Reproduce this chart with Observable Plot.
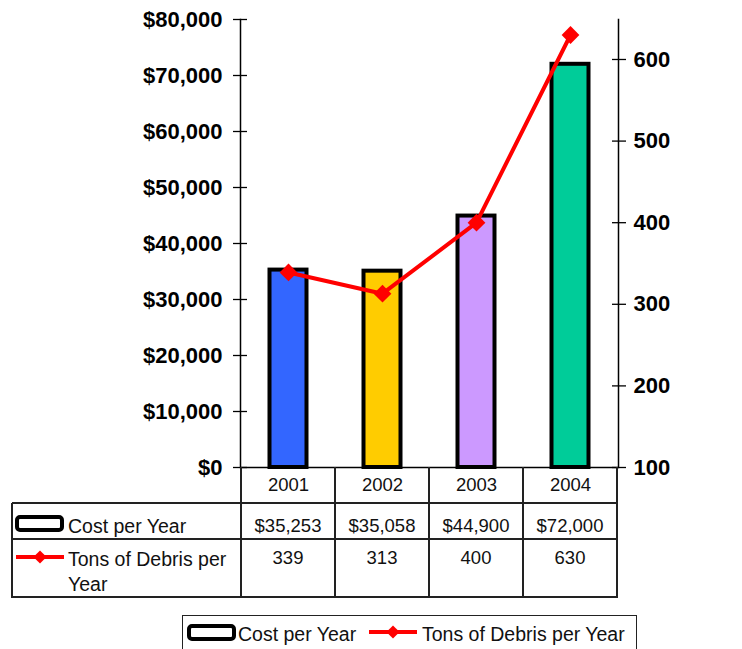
<!DOCTYPE html>
<html>
<head>
<meta charset="utf-8">
<script src="https://cdn.jsdelivr.net/npm/d3@7"></script>
<script src="https://cdn.jsdelivr.net/npm/@observablehq/plot@0.6"></script>
<style>
  html, body { margin: 0; padding: 0; background: #fff; }
  #wrap { position: relative; width: 742px; height: 649px; overflow: hidden; font-family: "Liberation Sans", Arial, sans-serif; }
  #wrap svg { position: absolute; left: 0; top: 0; overflow: visible; }
  .ln { position: absolute; background: #222; }
  .txt { position: absolute; font-size: 18.5px; color: #111; white-space: nowrap; line-height: 1; }
  .lbl { font-size: 19.5px; }
</style>
</head>
<body>
<div id="wrap"></div>
<script>
// ---- data ----
const years = ["2001", "2002", "2003", "2004"];
const costPerYear = [35253, 35058, 44900, 72000];
const tonsPerYear = [339, 313, 400, 630];
const barColors = ["#3366FF", "#FFCC00", "#CC99FF", "#00CC99"];
const costTicks = [0, 10000, 20000, 30000, 40000, 50000, 60000, 70000, 80000];
const tonsTicks = [100, 200, 300, 400, 500, 600];
const seriesNames = ["Cost per Year", "Tons of Debris per Year"];

// right axis domain (tons) mapped onto the cost scale
const costDomain = [0, 80000];
const tonsDomain = [100, 649];
const toCost = t => (t - tonsDomain[0]) / (tonsDomain[1] - tonsDomain[0]) * (costDomain[1] - costDomain[0]) + costDomain[0];
const fromCost = c => (c - costDomain[0]) / (costDomain[1] - costDomain[0]) * (tonsDomain[1] - tonsDomain[0]) + tonsDomain[0];

const data = years.map((y, i) => ({year: y, cost: costPerYear[i], tons: tonsPerYear[i], color: barColors[i]}));
const fmtMoney = d => "$" + d3.format(",")(d);

const W = 742, H = 649;
const chart = Plot.plot({
  width: W,
  height: H,
  marginTop: 19,
  marginBottom: 182,
  marginLeft: 240,
  marginRight: 124,
  style: {fontFamily: "'Liberation Sans', Arial, sans-serif", color: "#000", background: "transparent", overflow: "visible"},
  x: {type: "band", domain: years, padding: 0, label: null},
  y: {domain: costDomain, label: null},
  marks: [
    Plot.frame({anchor: "left", stroke: "#000", strokeWidth: 1.5}),
    Plot.frame({anchor: "right", stroke: "#000", strokeWidth: 1.5}),
    Plot.barY(data, {x: "year", y: "cost", fill: "color", stroke: "#000", strokeWidth: 4, insetLeft: 28.5, insetRight: 28.5}),
    Plot.ruleY([0], {stroke: "#000", strokeWidth: 1.5}),
    // left axis: crossing ticks + labels
    Plot.axisY(costTicks, {anchor: "left", label: null, tickSize: 14, dx: 7, tickFormat: () => "", stroke: "#000", strokeWidth: 1.3}),
    Plot.axisY(costTicks, {anchor: "left", label: null, tickSize: 0, tickPadding: 18, tickFormat: fmtMoney, fontSize: 22, fontWeight: "bold", fill: "#000"}),
    // right axis
    Plot.axisY(tonsTicks.map(toCost), {anchor: "right", label: null, tickSize: 14, dx: -7, tickFormat: () => "", stroke: "#000", strokeWidth: 1.3}),
    Plot.axisY(tonsTicks.map(toCost), {anchor: "right", label: null, tickSize: 0, tickPadding: 15, tickFormat: d => String(Math.round(fromCost(d))), fontSize: 22, fontWeight: "bold", fill: "#000"}),
    // x labels (top row of the data table)
    Plot.axisX({anchor: "bottom", label: null, tickSize: 0, tickPadding: 10, fontSize: 18.5, fill: "#111"}),
    // tons line
    Plot.line(data, {x: "year", y: d => toCost(d.tons), stroke: "#FF0000", strokeWidth: 4}),
    Plot.dot(data, {x: "year", y: d => toCost(d.tons), symbol: "diamond2", r: 8, fill: "#FF0000", stroke: "none"})
  ]
});

const wrap = document.getElementById("wrap");
wrap.appendChild(chart);

// ---- data table overlay, aligned with the x band scale ----
const xs = chart.scale("x");
const ys = chart.scale("y");
const bw = xs.bandwidth;
const colStarts = years.map(y => xs.apply(y));
const plotLeft = colStarts[0];
const plotRight = colStarts[colStarts.length - 1] + bw;
const axisY0 = ys.apply(0);
const tableLeft = 12;
const row1 = axisY0 + 36, row2 = row1 + 36, tableBottom = row2 + 58;
const lw = 1.5;

function hline(x1, x2, y) {
  const d = document.createElement("div"); d.className = "ln";
  Object.assign(d.style, {left: x1 + "px", top: (y - lw / 2) + "px", width: (x2 - x1) + "px", height: lw + "px"});
  wrap.appendChild(d);
}
function vline(x, y1, y2) {
  const d = document.createElement("div"); d.className = "ln";
  Object.assign(d.style, {left: (x - lw / 2) + "px", top: y1 + "px", width: lw + "px", height: (y2 - y1) + "px"});
  wrap.appendChild(d);
}
function text(str, x, baselineY, align, cls) {
  const d = document.createElement("div"); d.className = "txt" + (cls ? " " + cls : "");
  d.textContent = str;
  d.style.top = (baselineY - 15.5) + "px";
  if (align === "center") { d.style.left = (x - 100) + "px"; d.style.width = "200px"; d.style.textAlign = "center"; }
  else d.style.left = x + "px";
  wrap.appendChild(d);
}

hline(tableLeft, plotRight + lw / 2, row1);
hline(tableLeft, plotRight + lw / 2, row2);
hline(tableLeft - lw / 2, plotRight + lw / 2, tableBottom);
vline(tableLeft, row1, tableBottom);
colStarts.forEach(x => vline(x, axisY0, tableBottom));
vline(plotRight, axisY0, tableBottom);

years.forEach((y, i) => {
  const cx = colStarts[i] + bw / 2;
  text(fmtMoney(costPerYear[i]), cx, row1 + 29, "center");
  text(String(tonsPerYear[i]), cx, row2 + 25, "center");
});

function keySvg(kind) {
  const s = d3.create("svg").attr("width", 50).attr("height", 20).style("position", "absolute").style("overflow", "visible");
  if (kind === "bar") {
    s.append("rect").attr("x", 2).attr("y", 2).attr("width", 45).attr("height", 13).attr("rx", 3)
      .attr("fill", "#fff").attr("stroke", "#000").attr("stroke-width", 4);
  } else {
    s.append("line").attr("x1", 0).attr("x2", 48).attr("y1", 9).attr("y2", 9).attr("stroke", "#FF0000").attr("stroke-width", 4);
    s.append("path").attr("d", d3.symbol(d3.symbolDiamond2, 110)()).attr("transform", "translate(24,9)").attr("fill", "#FF0000");
  }
  return s.node();
}
function placeKey(kind, x, y) {
  const k = keySvg(kind);
  k.style.left = x + "px"; k.style.top = y + "px";
  wrap.appendChild(k);
}

// row labels
placeKey("bar", 15, row1 + 12);
text(seriesNames[0], 68, row1 + 29, null, "lbl");
placeKey("line", 16, row2 + 9);
text("Tons of Debris per", 68, row2 + 26, null, "lbl");
text("Year", 68, row2 + 51, null, "lbl");

// ---- bottom legend ----
const leg = document.createElement("div");
Object.assign(leg.style, {position: "absolute", left: "182px", top: "615px", width: "455px", height: "50px", border: "1.5px solid #222", boxSizing: "border-box"});
wrap.appendChild(leg);
placeKey("bar", 187, 624);
text(seriesNames[0], 238, 640, null, "lbl");
placeKey("line", 369, 623);
text(seriesNames[1], 422, 640, null, "lbl");
</script>
</body>
</html>
